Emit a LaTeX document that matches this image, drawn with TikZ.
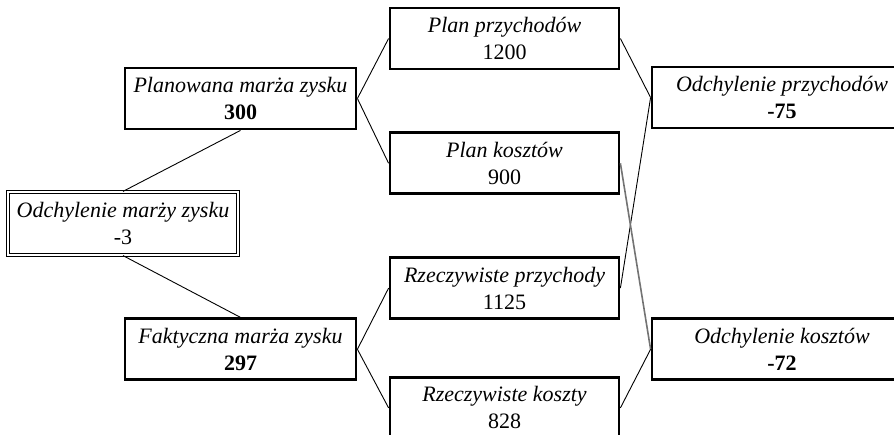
\documentclass[tikz,border=0pt]{standalone}
\usepackage{fontspec}
\setmainfont{Liberation Serif}
\usepackage{tikz}
\usetikzlibrary{positioning}
\tikzset{
  every picture/.append style={line width=0.6pt},
}
\newcommand{\kwota}[1]{\upshape #1}
\newcommand{\kwotab}[1]{\upshape\bfseries #1}

\begin{document}
\begin{tikzpicture}[x=1pt, y=-1pt,
  factor/.style={rectangle, draw, line width=2.8pt,
                 minimum width=229pt, minimum height=61pt,
                 align=center, inner sep=0pt,
                 font=\fontsize{22}{27}\selectfont\itshape},
  margin/.style={factor, minimum width=231pt},
  result/.style={factor, minimum width=260pt},
  root/.style={factor, line width=1.2pt, double, double distance=2pt,
               minimum width=230pt, minimum height=63pt},
  link/.style={line width=0.9pt}
]
\clip (0,0) rectangle (894,435);

% Left column
\node[root] (odchmarzy) at (123,223.5) {Odchylenie marży zysku\\\kwota{-3}};
\node[margin] (planmarza) at (240.5,98.5) {Planowana marża zysku\\\kwotab{300}};
\node[margin, below=187pt of planmarza] (faktmarza) {Faktyczna marża zysku\\\kwotab{297}};

% Middle column
\node[factor] (planprzych) at (504.5,38.5) {Plan przychodów\\\kwota{1200}};
\node[factor, below=61pt of planprzych] (plankoszt) {Plan kosztów\\\kwota{900}};
\node[factor, below=61pt of plankoszt] (rzeczprzych) {Rzeczywiste przychody\\\kwota{1125}};
\node[factor, below=56pt of rzeczprzych] (rzeczkoszt) {Rzeczywiste koszty\\\kwota{828}};

% Right column
\node[result] (odchprzych) at (782,97.5) {Odchylenie przychodów\\\kwotab{-75}};
\node[result, below=188pt of odchprzych] (odchkoszt) {Odchylenie kosztów\\\kwotab{-72}};

% Connectors
\draw[link] (planmarza.south) -- (odchmarzy.north);
\draw[link] (odchmarzy.south) -- (faktmarza.north);
\draw[link] (planmarza.east) -- (planprzych.west);
\draw[link] (planmarza.east) -- (plankoszt.west);
\draw[link] (faktmarza.east) -- (rzeczprzych.west);
\draw[link] (faktmarza.east) -- (rzeczkoszt.west);
\draw[link] (planprzych.east) -- (odchprzych.west);
\draw[link] (rzeczprzych.east) -- (odchprzych.west);
\draw[link, draw=black!55, line width=1.6pt] (plankoszt.east) -- (odchkoszt.west);
\draw[link] (rzeczkoszt.east) -- (odchkoszt.west);

\end{tikzpicture}
\end{document}
